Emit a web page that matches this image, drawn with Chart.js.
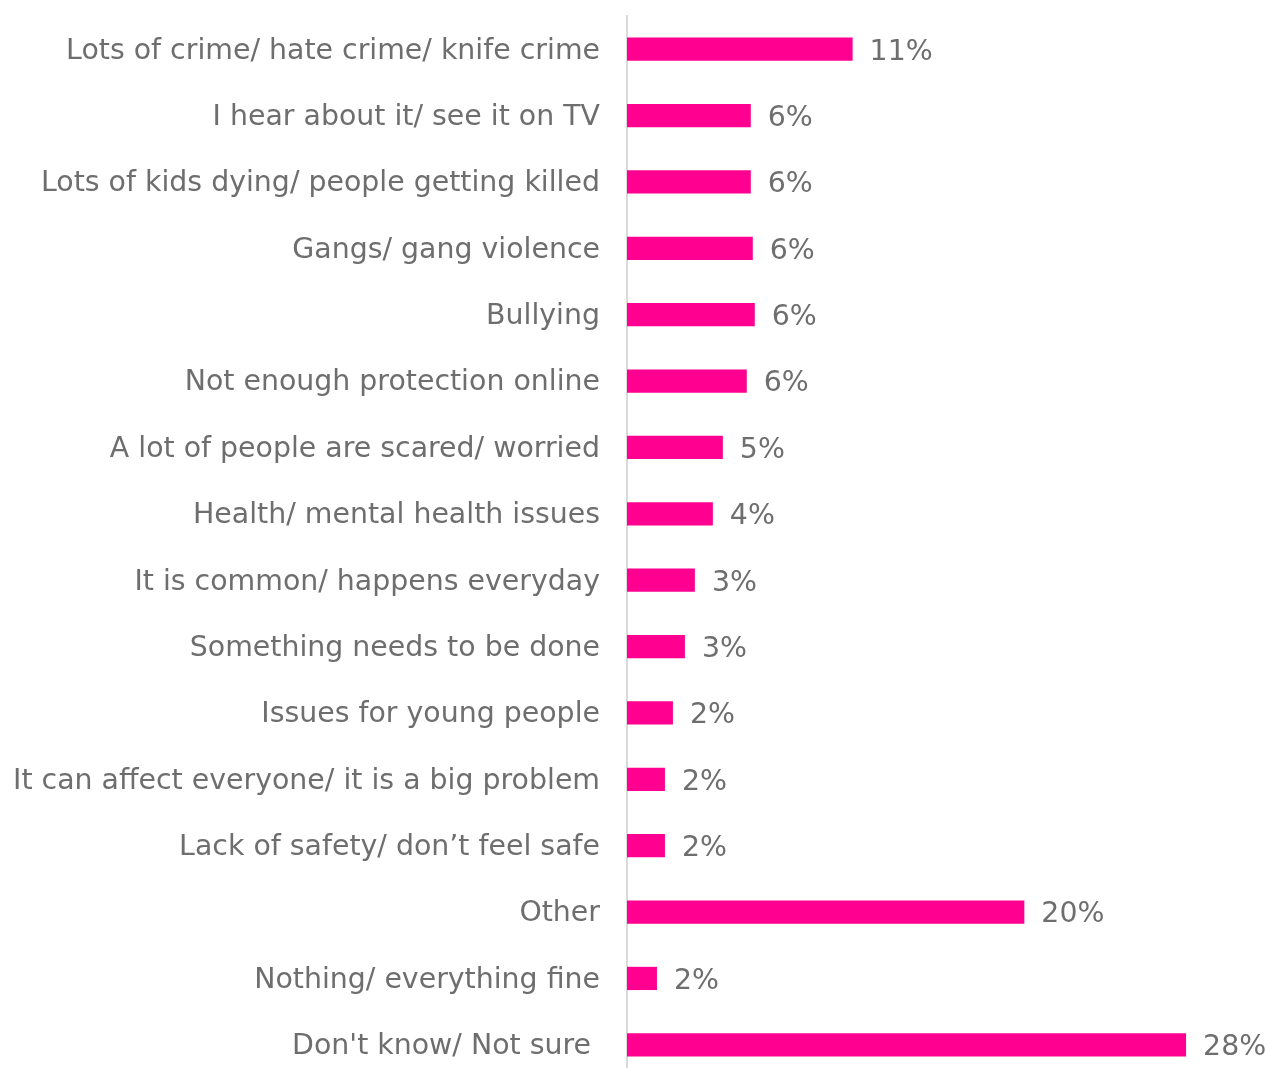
<!DOCTYPE html>
<html>
<head>
<meta charset="utf-8">
<script src="https://cdn.jsdelivr.net/npm/chart.js@4.4.1/dist/chart.umd.min.js"></script>
<style>
  html, body { margin: 0; padding: 0; background: #fff; overflow: hidden; }
  #wrap { width: 1265px; height: 1080px; }
</style>
</head>
<body>
<div id="wrap"><canvas id="chart"></canvas></div>
<script>
// === Chart data ===
const categories = [
    "Lots of crime/ hate crime/ knife crime",
    "I hear about it/ see it on TV",
    "Lots of kids dying/ people getting killed",
    "Gangs/ gang violence",
    "Bullying",
    "Not enough protection online",
    "A lot of people are scared/ worried",
    "Health/ mental health issues",
    "It is common/ happens everyday",
    "Something needs to be done",
    "Issues for young people",
    "It can affect everyone/ it is a big problem",
    "Lack of safety/ don\u2019t feel safe",
    "Other",
    "Nothing/ everything fine",
    "Don't know/ Not sure "
];
const values = [11.3, 6.2, 6.2, 6.3, 6.4, 6.0, 4.8, 4.3, 3.4, 2.9, 2.3, 1.9, 1.9, 19.9, 1.5, 28.0];

const barColor = "#FF0090";
const textColor = "#6e6e6e";
const fontFamily = "'DejaVu Sans', Verdana, sans-serif";
const fontSize = 28.4;

// === Draw "nn%" at the end of every bar ===
const valueLabels = {
    id: "valueLabels",
    afterDatasetsDraw(chart) {
        const ctx = chart.ctx;
        const meta = chart.getDatasetMeta(0);
        ctx.save();
        ctx.font = `${fontSize}px ${fontFamily}`;
        ctx.fillStyle = textColor;
        ctx.textAlign = "left";
        ctx.textBaseline = "middle";
        meta.data.forEach((bar, i) => {
            ctx.fillText(Math.round(values[i]) + "%", bar.x + 17, bar.y + 3);
        });
        ctx.restore();
    }
};

new Chart(document.getElementById("chart"), {
    type: "bar",
    data: {
        labels: categories,
        datasets: [{
            data: values,
            backgroundColor: barColor,
            borderWidth: 0,
            barPercentage: 0.35,
            categoryPercentage: 1
        }]
    },
    options: {
        indexAxis: "y",
        responsive: true,
        maintainAspectRatio: false,
        animation: false,
        layout: { padding: { top: 16, bottom: 2, left: 0, right: 39 } },
        plugins: {
            legend: { display: false },
            tooltip: { enabled: false }
        },
        scales: {
            x: {
                min: 0,
                max: 30,
                display: false
            },
            y: {
                // fixed axis width, and no extra top/bottom room for labels
                afterFit(scale) {
                    scale.width = 627;
                    scale.paddingTop = 0;
                    scale.paddingBottom = 0;
                },
                grid: { display: false, drawTicks: false },
                border: { display: true, color: "#dadada", width: 2 },
                ticks: {
                    padding: 27,
                    labelOffset: 2,
                    color: textColor,
                    font: { family: fontFamily, size: fontSize }
                }
            }
        }
    },
    plugins: [valueLabels]
});
</script>
</body>
</html>
